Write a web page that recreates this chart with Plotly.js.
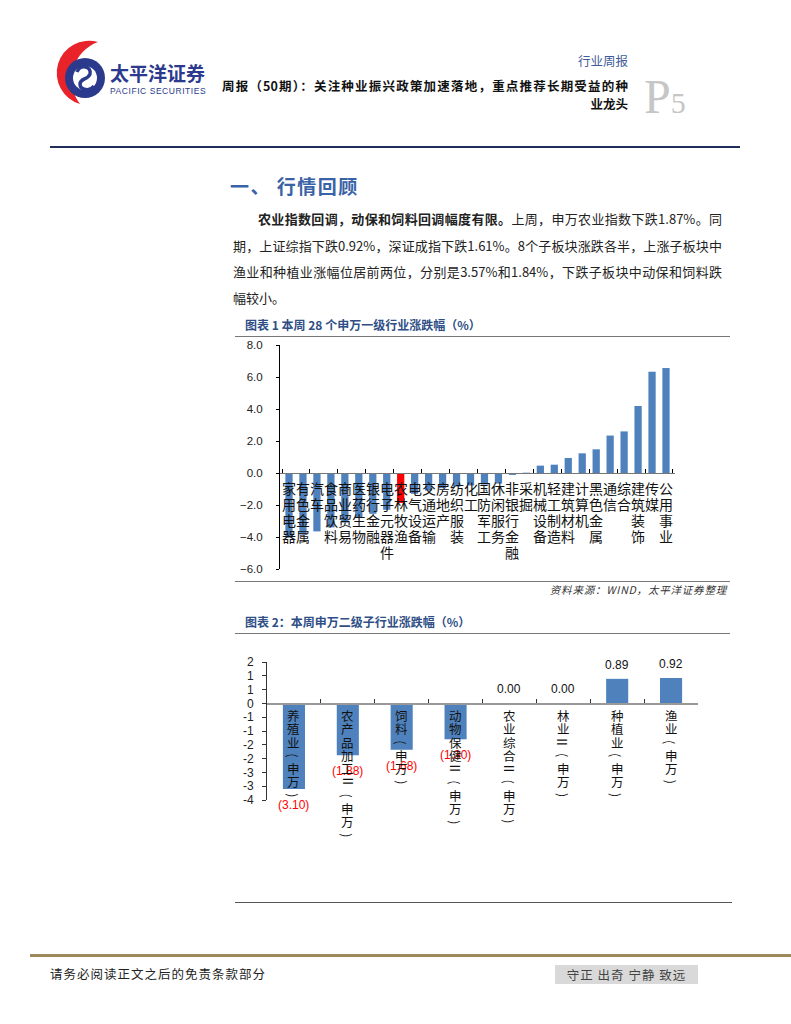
<!DOCTYPE html>
<html><head><meta charset="utf-8">
<script src="https://cdn.plot.ly/plotly-3.0.1.min.js"></script>
<style>
body{margin:0;background:#fff;}
#page{position:relative;width:791px;height:1024px;overflow:hidden;font-family:"Noto Sans CJK SC","Noto Sans",sans-serif;color:#222;}
.a{position:absolute;white-space:nowrap;}
.j{text-align:justify;text-align-last:justify;}
.rule{position:absolute;height:0;}
</style></head>
<body><div id="page">
<svg class="a" style="left:0;top:0" width="120" height="110" viewBox="0 0 120 110">
  <path d="M98,42 A31,31 0 0 0 80,104 A40,40 0 0 1 98,42 Z" fill="#e8232a"/>
  <circle cx="85" cy="78" r="20" fill="#2b3a8c"/>
  <circle cx="85" cy="78" r="12" fill="#fff"/>
  <path d="M77,72 C80,64 92,66 90,74 C88,80 80,78 80,84 C80,90 90,92 94,86" fill="none" stroke="#2b3a8c" stroke-width="3.5"/>
</svg>
<div class="a" style="left:110px;top:61px;font-size:19px;line-height:24px;font-weight:700;color:#2b3a8c;">太平洋证券</div>
<div class="a" style="left:110px;top:85px;font-size:8.5px;line-height:12px;letter-spacing:0.55px;color:#2b3a8c;font-family:'Liberation Sans',Arial,sans-serif;">PACIFIC SECURITIES</div>
<div class="a" style="left:578px;top:52px;width:50px;font-size:12.5px;line-height:18px;color:#3e5c9a;" >行业周报</div>
<div class="a j" style="left:222px;top:77px;width:406px;font-size:12.5px;line-height:18px;font-weight:700;color:#111;">周报（50期）：关注种业振兴政策加速落地，重点推荐长期受益的种</div>
<div class="a" style="left:578px;top:95px;width:50px;text-align:right;font-size:12.5px;line-height:18px;font-weight:700;color:#111;">业龙头</div>
<div class="a" style="left:644px;top:72px;font-family:'Liberation Serif',serif;font-size:48px;line-height:50px;color:#c6c6c6;">P<span style="font-size:30px;">5</span></div>
<div class="rule" style="left:50px;top:146px;width:690px;border-top:2px solid #1f2d5a;"></div>

<div class="a" style="left:230px;top:174px;font-size:19px;line-height:24px;font-weight:700;letter-spacing:1.5px;color:#3a62a6;">一、 行情回顾</div>
<div class="a j" style="left:258px;top:206px;width:464px;font-size:13px;line-height:26px;"><b>农业指数回调，动保和饲料回调幅度有限。</b>上周，申万农业指数下跌1.87%。同</div>
<div class="a j" style="left:233px;top:233px;width:489px;font-size:13px;line-height:26px;">期，上证综指下跌0.92%，深证成指下跌1.61%。8个子板块涨跌各半，上涨子板块中</div>
<div class="a j" style="left:233px;top:259px;width:489px;font-size:13px;line-height:26px;">渔业和种植业涨幅位居前两位，分别是3.57%和1.84%，下跌子板块中动保和饲料跌</div>
<div class="a" style="left:233px;top:285px;font-size:13px;line-height:26px;">幅较小。</div>

<div class="a" style="left:245px;top:316px;font-size:12px;line-height:18px;font-weight:700;color:#2e4e85;">图表 1 本周 28 个申万一级行业涨跌幅（%）</div>
<div class="rule" style="left:235px;top:336px;width:495px;border-top:1.5px solid #777;"></div>
<div id="c1" class="a" style="left:235px;top:333px;width:495px;height:248px;"></div>
<div class="rule" style="left:235px;top:581px;width:495px;border-top:1.5px solid #777;"></div>
<div class="a" style="left:527px;top:582px;width:200px;text-align:right;font-size:10.5px;line-height:16px;font-style:italic;letter-spacing:0.8px;color:#333;">资料来源：WIND，太平洋证券整理</div>

<div class="a" style="left:245px;top:613px;font-size:12px;line-height:18px;font-weight:700;color:#2e4e85;">图表 2：本周申万二级子行业涨跌幅（%）</div>
<div class="rule" style="left:235px;top:633px;width:495px;border-top:1.5px solid #777;"></div>
<div id="c2" class="a" style="left:235px;top:650px;width:495px;height:200px;"></div>
<div class="rule" style="left:235px;top:902px;width:497px;border-top:1.5px solid #555;"></div>

<div class="rule" style="left:30px;top:954px;width:761px;border-top:3px solid #9c8a5a;"></div>
<div class="a" style="left:50px;top:965px;font-size:12.5px;line-height:18px;letter-spacing:1px;color:#222;">请务必阅读正文之后的免责条款部分</div>
<div class="a" style="left:555px;top:965px;width:143px;height:19px;background:#d9d9d9;font-size:12.5px;line-height:19px;letter-spacing:1px;text-align:center;color:#444;">守正 出奇 宁静 致远</div>
</div>
<script>
// ---- Chart 1 data ----
const cats1 = ['家用电器','有色金属','汽车','食品饮料','商业贸易','医药生物','银行金融','电子元器件','农林牧渔','电气设备','交通运输','房地产','纺织服装','化工','国防军工','休闲服务','非银行金融','采掘','机械设备','轻工制造','建筑材料','计算机','黑色金属','通信','综合','建筑装饰','传媒','公用事业'];
const vals1 = [-4.05,-3.85,-3.65,-3.40,-3.10,-2.80,-2.55,-2.30,-1.87,-1.30,-1.10,-0.95,-0.85,-0.78,-0.72,-0.66,-0.12,0.02,0.46,0.52,0.94,1.23,1.48,2.34,2.60,4.19,6.33,6.56];
const highlight1 = '农林牧渔';
const yRange1 = [-6, 8];

// ---- Chart 2 data ----
const cats2 = ['养殖业(申万)','农产品加工Ⅱ(申万)','饲料(申万)','动物保健Ⅱ(申万)','农业综合Ⅱ(申万)','林业Ⅱ(申万)','种植业(申万)','渔业(申万)'];
const vals2 = [-3.10,-1.88,-1.68,-1.30,0.00,0.00,0.89,0.92];
const yTicks2 = [1.5,1,0.5,0,-0.5,-1,-1.5,-2,-2.5,-3,-3.5];
const yTickText2 = ['2','1','1','0','-1','-1','-2','-2','-3','-3','-4'];
const yRange2 = [-3.5, 1.5];

const BLUE = '#4f81bd', RED = '#ff0000';

// stacked (vertical) category labels; non-CJK glyphs are turned sideways as in the reference
function vLabels(cats, size, first, step, rotate){
  const out = [];
  cats.forEach(c => {
    Array.from(c).forEach((ch, i) => {
      const side = rotate && /[()Ⅱ]/.test(ch);
      out.push({x:c, y:0, xref:'x', yref:'y', text: ch, showarrow:false, textangle: side ? 90 : 0,
        xanchor:'center', yanchor:'middle', yshift: -(first + i*step),
        font:{size:size, color:'#111', family:'Noto Sans CJK SC'}});
    });
  });
  return out;
}

Plotly.newPlot('c1', [{
  type:'bar', x:cats1, y:vals1,
  marker:{color: cats1.map(c => c === highlight1 ? RED : BLUE)}, hoverinfo:'none'
}], {
  width:495, height:248, margin:{l:45, r:55, t:12, b:12},
  paper_bgcolor:'rgba(0,0,0,0)', plot_bgcolor:'rgba(0,0,0,0)',
  bargap:0.48, showlegend:false,
  xaxis:{type:'category', anchor:'free', position:(0 - yRange1[0])/(yRange1[1]-yRange1[0]),
    showticklabels:false, showline:true, linecolor:'#777', linewidth:1.2,
    ticks:'inside', tickson:'boundaries', ticklen:4, tickcolor:'#000', showgrid:false, zeroline:false, fixedrange:true},
  yaxis:{range:yRange1, dtick:2, tick0:0, tickformat:'.1f', showline:true, linecolor:'#000', linewidth:1,
    ticks:'outside', ticklen:3, tickcolor:'#000', showgrid:false, zeroline:false, ticklabelstandoff:11,
    tickfont:{family:'Liberation Sans, Arial', size:11.5, color:'#222'}},
  annotations: vLabels(cats1, 14, 15, 16, false)
}, {staticPlot:true, displayModeBar:false});

const valAnn2 = vals2.map((v, i) => ({
  x:cats2[i], y:v, xref:'x', yref:'y', showarrow:false,
  text: v < 0 ? '(' + Math.abs(v).toFixed(2) + ')' : v.toFixed(2),
  yanchor:'middle', yshift: v < 0 ? -16 : 14,
  font:{family:'Liberation Sans Narrow, Liberation Sans, Arial', size:12, color: v < 0 ? RED : '#111'}
}));

Plotly.newPlot('c2', [{
  type:'bar', x:cats2, y:vals2, marker:{color:BLUE}, hoverinfo:'none'
}], {
  width:495, height:200, margin:{l:32, r:32, t:12, b:50},
  paper_bgcolor:'rgba(0,0,0,0)', plot_bgcolor:'rgba(0,0,0,0)',
  bargap:0.59, showlegend:false,
  xaxis:{type:'category', anchor:'free', position:(0 - yRange2[0])/(yRange2[1]-yRange2[0]),
    showticklabels:false, showline:true, linecolor:'#999', linewidth:1.5,
    ticks:'inside', tickson:'boundaries', ticklen:4, tickcolor:'#333', showgrid:false, zeroline:false},
  yaxis:{range:yRange2, tickmode:'array', tickvals:yTicks2, ticktext:yTickText2,
    showline:true, linecolor:'#333', linewidth:1, ticks:'outside', ticklen:4, tickcolor:'#333',
    showgrid:false, zeroline:false, ticklabelstandoff:6,
    tickfont:{family:'Liberation Sans Narrow, Liberation Sans, Arial', size:12, color:'#222'}},
  annotations: valAnn2.concat(vLabels(cats2, 12.5, 12, 13.3, true))
}, {staticPlot:true, displayModeBar:false});
</script>
</body></html>
